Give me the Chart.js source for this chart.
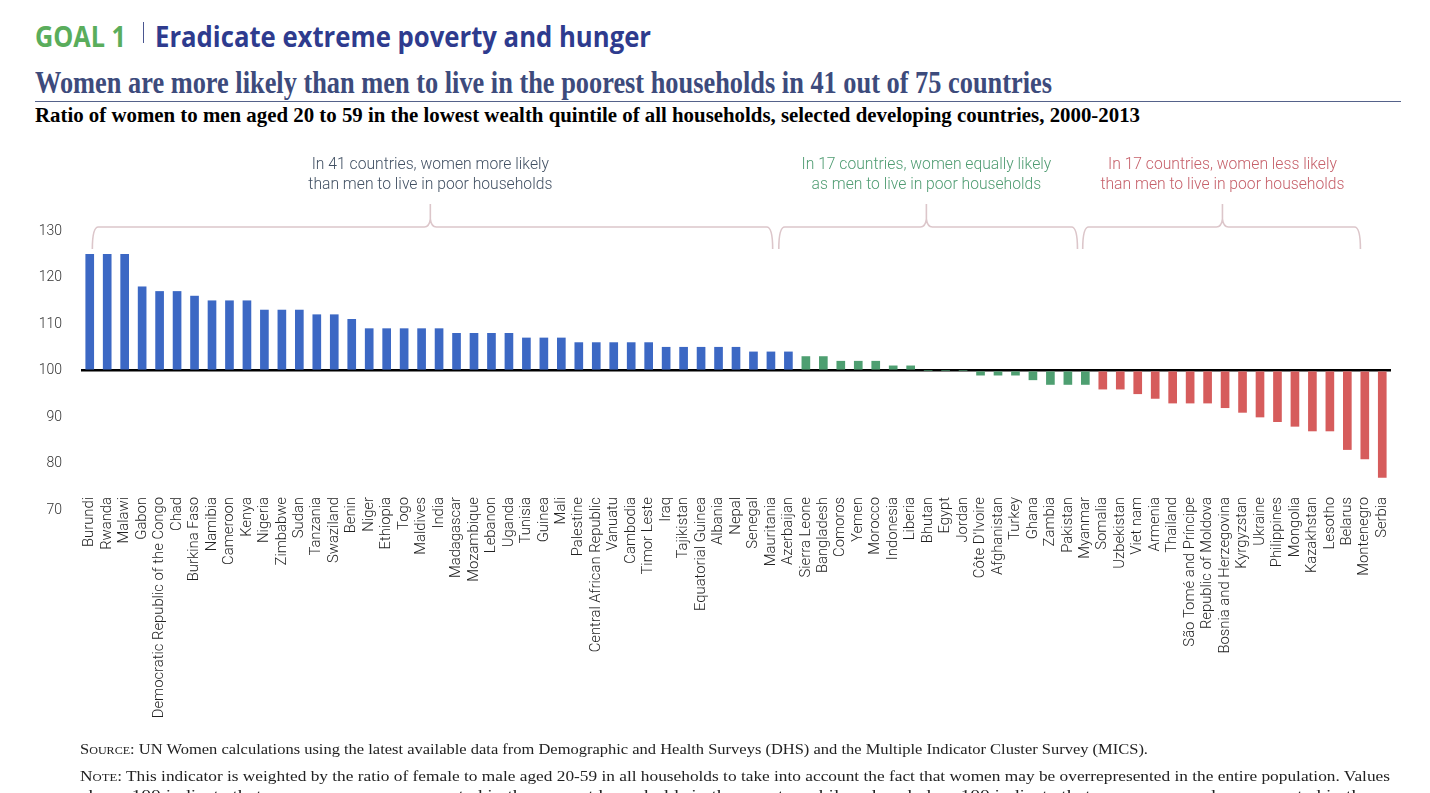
<!DOCTYPE html>
<html>
<head>
<meta charset="UTF-8">
<script src="https://cdn.jsdelivr.net/npm/chart.js"></script>
<style>
  html, body { margin:0; padding:0; background:#fff; width:1430px; height:793px; overflow:hidden; }
  .t { position:absolute; white-space:nowrap; transform-origin:0 0; line-height:1; }
  #goal { left:35px; top:17px; font:bold 28px 'Open Sans',sans-serif; color:#5aad5c; }
  #bar { left:143px; top:22px; width:1px; height:21px; background:#4a5690; position:absolute; }
  #goalTitle { left:155px; top:17px; font:bold 28px 'Open Sans',sans-serif; color:#2e3b8e; }
  #title { left:35px; top:65px; font:bold 31px 'Liberation Serif',serif; color:#3d4b7c; }
  #rule { position:absolute; left:35px; top:101px; width:1366px; height:1px; background:#55628a; }
  #sub { left:35px; top:103px; font:bold 21px 'Liberation Serif',serif; color:#000; }
  .foot { left:80px; font:15px 'Liberation Serif',serif; color:#222; }
  .sc { font-variant:small-caps; }
  #src { top:741px; }
  #note { top:768px; }
  #note2 { top:787px; }
  canvas { position:absolute; left:0; top:0; }
</style>
</head>
<body>
<div class="t" id="goal">GOAL 1</div>
<div id="bar"></div>
<div class="t" id="goalTitle">Eradicate extreme poverty and hunger</div>
<div class="t" id="title">Women are more likely than men to live in the poorest households in 41 out of 75 countries</div>
<div id="rule"></div>
<div class="t" id="sub">Ratio of women to men aged 20 to 59 in the lowest wealth quintile of all households, selected developing countries, 2000-2013</div>
<canvas id="chart" width="1430" height="793"></canvas>
<div class="t foot" id="src"><span class="sc">Source:</span> UN Women calculations using the latest available data from Demographic and Health Surveys (DHS) and the Multiple Indicator Cluster Survey (MICS).</div>
<div class="t foot" id="note"><span class="sc">Note:</span> This indicator is weighted by the ratio of female to male aged 20-59 in all households to take into account the fact that women may be overrepresented in the entire population. Values</div>
<div class="t foot" id="note2">above 100 indicate that women are overrepresented in the poorest households in the country while values below 100 indicate that women are underrepresented in them.</div>

<script>
const countries = [
  "Burundi", "Rwanda", "Malawi", "Gabon", "Democratic Republic of the Congo", "Chad", "Burkina Faso",
  "Namibia", "Cameroon", "Kenya", "Nigeria", "Zimbabwe", "Sudan", "Tanzania", "Swaziland", "Benin",
  "Niger", "Ethiopia", "Togo", "Maldives", "India", "Madagascar", "Mozambique", "Lebanon", "Uganda",
  "Tunisia", "Guinea", "Mali", "Palestine", "Central African Republic", "Vanuatu", "Cambodia",
  "Timor Leste", "Iraq", "Tajikistan", "Equatorial Guinea", "Albania", "Nepal", "Senegal",
  "Mauritania", "Azerbaijan",
  "Sierra Leone", "Bangladesh", "Comoros", "Yemen", "Morocco", "Indonesia", "Liberia", "Bhutan",
  "Egypt", "Jordan", "Côte D'Ivoire", "Afghanistan", "Turkey", "Ghana", "Zambia", "Pakistan", "Myanmar",
  "Somalia", "Uzbekistan", "Viet nam", "Armenia", "Thailand", "São Tomé and Príncipe",
  "Republic of Moldova", "Bosnia and Herzegovina", "Kyrgyzstan", "Ukraine", "Philippines",
  "Mongolia", "Kazakhstan", "Lesotho", "Belarus", "Montenegro", "Serbia"
];
const ratios = [
  125, 125, 125, 118, 117, 117, 116, 115, 115, 115, 113, 113, 113, 112, 112, 111,
  109, 109, 109, 109, 109, 108, 108, 108, 108, 107, 107, 107, 106, 106, 106, 106,
  106, 105, 105, 105, 105, 105, 104, 104, 104,
  103, 103, 102, 102, 102, 101, 101, 100, 100, 100, 99, 99, 99, 98, 97, 97, 97,
  96, 96, 95, 94, 93, 93, 93, 92, 91, 90, 89, 88, 87, 87, 83, 81, 77
];
const groupSizes = [41, 17, 17];
const groupColors = ["#3c68c4", "#4e9f71", "#d65c5c"];
const groupNotes = [
  ["In 41 countries, women more likely", "than men to live in poor households"],
  ["In 17 countries, women equally likely", "as men to live in poor households"],
  ["In 17 countries, women less likely", "than men to live in poor households"]
];
const noteColors = ["#415063", "#4f9c72", "#c6606a"];
const yTicks = [70, 80, 90, 100, 110, 120, 130];
// the x labels sit a little above the 70 line, so the plot stops short of it
const yMin = 72.8;

// bar colour by group
const barColors = [];
groupSizes.forEach((n, g) => { for (let i = 0; i < n; i++) barColors.push(groupColors[g]); });

// brace spans and tips, in category units
const braces = [
  { from: 0.15, to: 39.1, tip: 19.5 },
  { from: 39.45, to: 56.55, tip: 47.9 },
  { from: 56.85, to: 72.75, tip: 64.85 }
];

function fit(id, w) {
  const el = document.getElementById(id);
  const r = el.getBoundingClientRect().width;
  el.style.transform = `scaleX(${w / r})`;
}
fit("goal", 91);
fit("goalTitle", 496);
fit("title", 1017);
fit("sub", 1105);
fit("src", 1068);
fit("note", 1310);
fit("note2", 1310);

const bracePlugin = {
  id: "braces",
  afterDraw(chart) {
    const ctx = chart.ctx;
    const xs = chart.scales.x;
    const p0 = xs.getPixelForValue(0);
    const step = xs.getPixelForValue(1) - p0;
    const px = (v) => p0 + v * step;
    const yLine = 227, yEnd = 249, yTip = 204;
    ctx.save();
    ctx.strokeStyle = "#dcc6ca";
    ctx.lineWidth = 1.6;
    braces.forEach((b, i) => {
      const a = px(b.from), z = px(b.to), t = px(b.tip);
      ctx.beginPath();
      ctx.moveTo(a, yEnd);
      ctx.quadraticCurveTo(a, yLine, a + 6, yLine);
      ctx.lineTo(t - 6, yLine);
      ctx.quadraticCurveTo(t - 1, yLine, t, yLine - 8);
      ctx.lineTo(t, yTip);
      ctx.moveTo(t, yLine - 8);
      ctx.quadraticCurveTo(t + 1, yLine, t + 6, yLine);
      ctx.lineTo(z - 6, yLine);
      ctx.quadraticCurveTo(z, yLine, z, yEnd);
      ctx.stroke();

      ctx.fillStyle = noteColors[i];
      ctx.font = "300 15.7px Roboto, sans-serif";
      ctx.textAlign = "center";
      ctx.textBaseline = "middle";
      ctx.fillText(groupNotes[i][0], t, 165);
      ctx.fillText(groupNotes[i][1], t, 185);
    });
    ctx.restore();
  }
};

Chart.defaults.font.family = "Roboto, sans-serif";

new Chart(document.getElementById("chart"), {
  type: "bar",
  data: {
    labels: countries,
    datasets: [{
      data: ratios,
      base: 100,
      backgroundColor: barColors,
      barThickness: 8,
      borderWidth: 0
    }]
  },
  options: {
    responsive: false,
    devicePixelRatio: 1,
    animation: false,
    layout: { padding: { top: 231, right: 39, left: 0, bottom: 0 } },
    plugins: { legend: { display: false }, tooltip: { enabled: false } },
    scales: {
      x: {
        offset: true,
        grid: { display: false, drawTicks: false },
        border: { display: false },
        ticks: {
          autoSkip: false,
          maxRotation: 90,
          minRotation: 90,
          padding: 0,
          color: "#222",
          font: { size: 14.8, weight: "300" }
        },
        afterFit: (s) => { s.height = 296; }
      },
      y: {
        min: yMin,
        max: yTicks[yTicks.length - 1],
        afterBuildTicks: (s) => { s.ticks = yTicks.map((v) => ({ value: v })); },
        grid: {
          drawTicks: false,
          color: (c) => (c.tick && c.tick.value === 100 ? "#000" : "rgba(0,0,0,0)"),
          lineWidth: (c) => (c.tick && c.tick.value === 100 ? 2.5 : 0)
        },
        border: { display: false },
        ticks: { padding: 19, color: "#333", font: { size: 14, weight: "300" } },
        afterFit: (s) => { s.width = 81; }
      }
    }
  },
  plugins: [bracePlugin]
});
</script>
</body>
</html>
